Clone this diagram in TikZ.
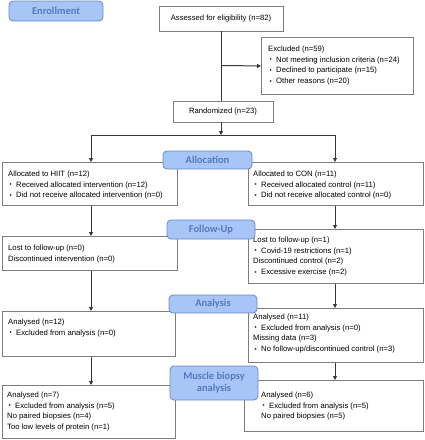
\documentclass[tikz,border=0pt]{standalone}
\usepackage{fontspec}
\setmainfont{Liberation Sans}
\newfontfamily\labfont{Carlito}
\usetikzlibrary{arrows.meta}
\definecolor{labfill}{RGB}{168,197,248}
\definecolor{labdraw}{RGB}{105,135,195}
\definecolor{labtext}{RGB}{84,122,188}
\definecolor{boxdraw}{RGB}{125,125,125}
\definecolor{linecol}{RGB}{55,55,55}
\newcommand\bl{\hspace*{1.5pt}\makebox[6.5pt][l]{\raisebox{0.3pt}{\scalebox{0.8}{\textbullet}}}}
\tikzset{
  x=1pt, y=-1pt,
  box/.style={draw=boxdraw, line width=0.9pt, fill=white, inner sep=0pt, anchor=north west},
  txt/.style={anchor=north west, inner sep=0pt, align=left, font={\fontsize{7.7}{10.8}\selectfont}},
  ctxt/.style={draw=boxdraw, line width=0.9pt, fill=white, inner sep=0pt, font={\fontsize{7.7}{10.8}\selectfont}},
  lab/.style={draw=labdraw, line width=0.8pt, fill=labfill, rounded corners=4pt, inner sep=0pt,
    text=labtext, align=center, font={\labfont\bfseries\fontsize{10.4}{12}\selectfont}},
  conn/.style={draw=linecol, line width=1pt},
  arr/.style={conn, -{Triangle[width=4pt,length=4pt]}},
}
\newcommand\fl{\rule{0pt}{6pt}}
\begin{document}
\begin{tikzpicture}
\useasboundingbox (0,0) rectangle (424,440);
% top boxes
\node[ctxt, minimum width=124pt, minimum height=25pt] (assess) at (221,18.5) {Assessed for eligibility (n=82)};
\node[box, minimum width=152pt, minimum height=57pt] (excl) at (261,37) {};
\node[txt] (exclT) at (268,45) {\fl Excluded (n=59)\\ \bl Not meeting inclusion criteria (n=24)\\ \bl Declined to participate (n=15)\\ \bl Other reasons (n=20)};
\node[ctxt, minimum width=100pt, minimum height=21pt] (rand) at (223,111.5) {Randomized (n=23)};
% allocation
\node[box, minimum width=175pt, minimum height=43pt] (hiit) at (2,162) {};
\node[txt] (hiitT) at (8,170) {\fl Allocated to HIIT (n=12)\\ \bl Received allocated intervention (n=12)\\ \bl Did not receive allocated intervention (n=0)};
\node[box, minimum width=175pt, minimum height=43pt] (con) at (248,162) {};
\node[txt] (conT) at (253,170) {\fl Allocated to CON (n=11)\\ \bl Received allocated control (n=11)\\ \bl Did not receive allocated control (n=0)};
% follow-up
\node[box, minimum width=175pt, minimum height=34pt] (lostH) at (2,236) {};
\node[txt] (lostHT) at (8,244) {\fl Lost to follow-up (n=0)\\ Discontinued intervention (n=0)};
\node[box, minimum width=175pt, minimum height=54pt] (lostC) at (248,229) {};
\node[txt] (lostCT) at (253,236) {\fl Lost to follow-up (n=1)\\ \bl Covid-19 restrictions (n=1)\\ Discontinued control (n=2)\\ \bl Excessive exercise (n=2)};
% analysis
\node[box, minimum width=173pt, minimum height=45pt] (anaH) at (2,311) {};
\node[txt] (anaHT) at (8,318) {\fl Analysed (n=12)\\ \bl Excluded from analysis (n=0)};
\node[box, minimum width=175pt, minimum height=54pt] (anaC) at (248,308) {};
\node[txt] (anaCT) at (253,313) {\fl Analysed (n=11)\\ \bl Excluded from analysis (n=0)\\ Missing data (n=3)\\ \bl No follow-up/discontinued control (n=3)};
% biopsy
\node[box, minimum width=173pt, minimum height=53pt] (bioH) at (2,385) {};
\node[txt] (bioHT) at (7,391) {\fl Analysed (n=7)\\ \bl Excluded from analysis (n=5)\\ No paired biopsies (n=4)\\ Too low levels of protein (n=1)};
\node[box, minimum width=179pt, minimum height=51pt] (bioC) at (244,380) {};
\node[txt] (bioCT) at (261,391) {\fl Analysed (n=6)\\ \bl Excluded from analysis (n=5)\\ No paired biopsies (n=5)};
% connectors
\coordinate (jx) at (221,65.5);
\coordinate (split) at (221,135);
\coordinate (sl) at (91,135);
\coordinate (sr) at (335,135);
\draw[conn] (assess.south -| jx) -- (rand.north -| jx);
\draw[arr] (jx) -- (excl.west);
\draw[arr] (rand.south -| split) -- (split);
\draw[conn] (sl) -- (sr);
\draw[arr] (sl) -- (sl |- hiit.north);
\draw[arr] (sr) -- (sr |- con.north);
\draw[arr] (sl |- hiit.south) -- (sl |- lostH.north);
\draw[arr] (sl |- lostH.south) -- (sl |- anaH.north);
\draw[arr] (sl |- anaH.south) -- (sl |- bioH.north);
\draw[arr] (sr |- con.south) -- (sr |- lostC.north);
\draw[arr] (sr |- lostC.south) -- (sr |- anaC.north);
\draw[arr] (sr |- anaC.south) -- (sr |- bioC.north);
% labels
\node[lab, minimum width=94pt, minimum height=20pt] (enr) at (56,11) {Enrollment};
\node[lab, minimum width=89pt, minimum height=18pt] (alloc) at (207.5,160) {Allocation};
\node[lab, minimum width=88pt, minimum height=19pt] (fup) at (211,229.5) {Follow-Up};
\node[lab, minimum width=88pt, minimum height=18pt] (anal) at (213,304) {Analysis};
\node[lab, minimum width=88pt, minimum height=34pt] (mba) at (214,383) {Muscle biopsy\\analysis};
\end{tikzpicture}
\end{document}
